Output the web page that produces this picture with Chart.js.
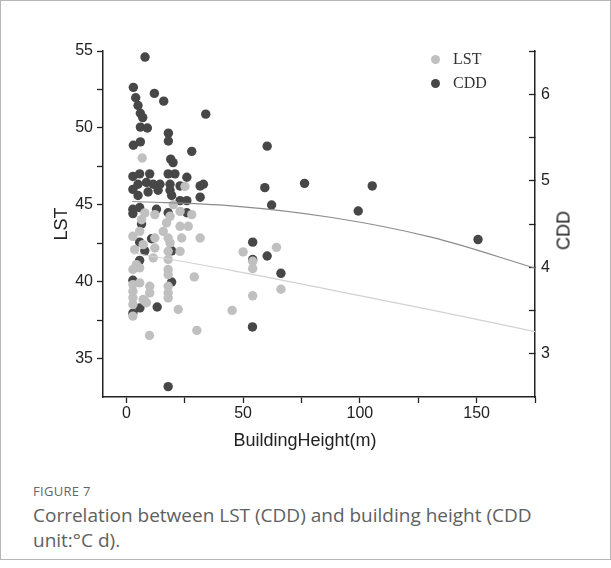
<!DOCTYPE html>
<html>
<head>
<meta charset="utf-8">
<script src="https://cdn.jsdelivr.net/npm/chart.js@4.4.1/dist/chart.umd.min.js"></script>
<style>
  body { margin: 0; background: #fff; }
  #wrap { position: relative; width: 611px; height: 568px; overflow: hidden; }
  #frame { position: absolute; left: 0; top: 0; width: 609px; height: 558px; border: 1px solid #b5b5b5; }
  #chart { position: absolute; left: 0; top: 0; }
  .leg { position: absolute; font: 16px "Liberation Serif", serif; color: #333; line-height: 18px; }
  .leg i { display: inline-block; width: 9px; height: 9px; border-radius: 50%; margin-right: 13px; vertical-align: 0px; }
  #cddTitle { position: absolute; left: 544px; top: 220px; width: 40px; font: 18px "Liberation Sans", Arial, sans-serif; color: #222; transform: rotate(-90deg); text-align: center; }
  #xTitle { position: absolute; left: 205px; top: 430px; width: 200px; text-align: center; font: 18px "Liberation Sans", Arial, sans-serif; color: #222; }
  #fig { position: absolute; left: 33px; top: 482px; font: 13px "Open Sans", sans-serif; color: #666; letter-spacing: 0.3px; }
  #cap { position: absolute; left: 33px; top: 503px; width: 505px; font: 19px/25px "Open Sans", sans-serif; color: #606060; }
</style>
</head>
<body>
<div id="wrap">
  <div id="frame"></div>
  <canvas id="chart" width="611" height="460"></canvas>
  <div class="leg" style="left:431px;top:50px"><i style="background:#c0c0c0"></i>LST</div>
  <div class="leg" style="left:431px;top:74px"><i style="background:#474747"></i>CDD</div>
  <div id="cddTitle">CDD</div>
  <div id="xTitle">BuildingHeight(m)</div>
  <div id="fig">FIGURE 7</div>
  <div id="cap">Correlation between LST (CDD) and building height (CDD unit:°C d).</div>
</div>
<script>
// building height (m) / LST points
const lstX = [6.8, 25.1, 20.1, 23, 28, 7.9, 12.2, 18.7, 6.5, 17.2, 23, 26.5, 5.7, 15.8, 2.8, 12.2, 17.9, 23.7, 31.6, 7.2,
              18.7, 3.6, 12.2, 17.9, 23, 50, 4.3, 11.5, 17.9, 2.8, 5.7, 17.9, 17.9, 29.1, 2.8, 5.7, 10, 10, 2.8, 17.9,
              17.9, 2.8, 7.2, 17.9, 2.8, 8.6, 22.2, 2.8, 7.9, 9.9, 30.2, 45.3, 64.3, 54.1, 54.1, 66.2, 54.1];
const lstY = [48.04, 46.19, 45.0, 44.57, 44.36, 44.47, 44.36, 44.25, 44.03, 43.82, 43.6, 43.6, 43.27, 43.27, 42.95, 42.84, 42.84, 42.84, 42.84, 42.41,
              42.52, 42.08, 42.19, 41.97, 41.97, 41.94, 41.11, 41.55, 41.44, 40.79, 40.9, 40.79, 40.46, 40.31, 39.81, 39.92, 39.7, 39.27, 39.38, 39.7,
              39.27, 38.95, 38.84, 38.95, 38.52, 38.63, 38.19, 37.76, 38.73, 36.5, 36.83, 38.13, 42.23, 41.33, 40.85, 39.51, 39.08];

// building height (m) / CDD points
const cddX = [8, 3, 12, 4, 16, 5, 6, 34, 7, 6, 9, 18, 18, 3, 6, 28, 19, 20, 2.8, 5.7,
              10, 5, 8.6, 11.5, 14.4, 17.9, 20.8, 25.9, 18.7, 23, 18.7, 19.4, 23, 25.9, 31.6, 33, 31.6, 9.3, 5, 2.8,
              13.6, 2.8, 5.7, 12.9, 2.8, 17.9, 25.9, 6.5, 10.8, 5.7, 7.9, 19.4, 5.7, 2.8, 19.4, 5.8, 13.2, 2.8, 17.9, 54,
              60.3, 59.3, 76.3, 105.3, 62.2, 99.3, 150.6, 54.1, 54.1, 60.3, 66.2];
const cddY = [6.43, 6.08, 6.01, 5.96, 5.92, 5.87, 5.78, 5.77, 5.73, 5.62, 5.61, 5.55, 5.46, 5.41, 5.45, 5.34, 5.25, 5.21, 5.05, 5.08,
              5.08, 4.96, 4.98, 4.96, 4.96, 5.08, 5.08, 5.04, 4.96, 4.94, 4.89, 4.83, 4.77, 4.77, 4.94, 4.96, 4.81, 4.87, 4.83, 4.9,
              4.89, 4.67, 4.69, 4.67, 4.62, 4.63, 4.63, 4.5, 4.33, 4.29, 4.19, 4.19, 4.08, 3.85, 3.83, 3.53, 3.54, 3.47, 2.62, 3.31,
              5.4, 4.92, 4.97, 4.94, 4.72, 4.65, 4.32, 4.29, 4.09, 4.13, 3.93];

// fitted curves
const fitX = [2.5, 45, 88, 131, 175];
const lstFit = [41.88, 40.74, 39.45, 38.15, 36.75];
const cddFit = [4.76, 4.71, 4.575, 4.345, 3.99];

// tick labels
const xLabels = [0, 50, 100, 150];
const lstLabels = [35, 40, 45, 50, 55];
const cddLabels = [3, 4, 5, 6];

const pts = (xs, ys) => xs.map((x, i) => ({x: x, y: ys[i]}));
const axisColor = '#222';
const tickFont = {family: '"Liberation Sans", Arial, sans-serif', size: 16};
const titleFont = {family: '"Liberation Sans", Arial, sans-serif', size: 18};

new Chart(document.getElementById('chart'), {
    type: 'scatter',
    data: {
        datasets: [{
            label: 'LST',
            data: pts(lstX, lstY),
            yAxisID: 'y',
            backgroundColor: '#c0c0c0',
            borderWidth: 0,
            pointRadius: 4.7,
            order: 1
        }, {
            label: 'CDD',
            data: pts(cddX, cddY),
            yAxisID: 'y2',
            backgroundColor: '#474747',
            borderWidth: 0,
            pointRadius: 4.7,
            order: 2
        }, {
            type: 'line',
            label: 'LST fit',
            data: pts(fitX, lstFit),
            yAxisID: 'y',
            borderColor: '#d2d2d2',
            borderWidth: 1.2,
            pointRadius: 0,
            cubicInterpolationMode: 'monotone',
            order: 0
        }, {
            type: 'line',
            label: 'CDD fit',
            data: pts(fitX, cddFit),
            yAxisID: 'y2',
            borderColor: '#8c8c8c',
            borderWidth: 1.2,
            pointRadius: 0,
            cubicInterpolationMode: 'monotone',
            order: 0
        }]
    },
    options: {
        responsive: false,
        animation: false,
        layout: { padding: { top: 51, left: 0, right: 0, bottom: 0 } },
        plugins: {
            legend: { display: false },
            tooltip: { enabled: false }
        },
        scales: {
            x: {
                type: 'linear',
                min: -10,
                max: 175,
                afterFit: s => { s.height = 63; },
                border: { color: axisColor, width: 1.5 },
                grid: { drawOnChartArea: false, tickLength: 6, tickColor: axisColor, tickWidth: 1.3 },
                ticks: {
                    stepSize: 25,
                    includeBounds: false,
                    padding: 1,
                    color: axisColor,
                    font: tickFont,
                    maxRotation: 0,
                    autoSkip: false,
                    callback: v => xLabels.includes(v) ? String(v) : ''
                }
            },
            y: {
                position: 'left',
                min: 32.5,
                max: 55,
                afterFit: s => { s.width = 103; },
                border: { color: axisColor, width: 1.5 },
                grid: {
                    drawOnChartArea: false, tickLength: 6, tickWidth: 1.3,
                    tickColor: c => (c.tick && c.tick.value === 32.5) ? 'rgba(0,0,0,0)' : axisColor
                },
                ticks: {
                    stepSize: 2.5,
                    padding: 4,
                    color: axisColor,
                    font: tickFont,
                    autoSkip: false,
                    callback: v => lstLabels.includes(v) ? String(v) : ''
                },
                title: { display: true, text: 'LST', color: axisColor, font: titleFont, padding: { top: 51, bottom: 0 } }
            },
            y2: {
                position: 'right',
                min: 2.5,
                max: 6.5,
                afterFit: s => { s.width = 76; },
                border: { color: axisColor, width: 1.5 },
                grid: {
                    drawOnChartArea: false, tickLength: -6, tickWidth: 1.3,
                    tickColor: c => (c.tick && c.tick.value === 2.5) ? 'rgba(0,0,0,0)' : axisColor
                },
                ticks: {
                    stepSize: 0.5,
                    padding: 12,
                    color: axisColor,
                    font: tickFont,
                    autoSkip: false,
                    callback: v => cddLabels.includes(v) ? String(v) : ''
                }
            }
        }
    }
});
</script>
</body>
</html>
